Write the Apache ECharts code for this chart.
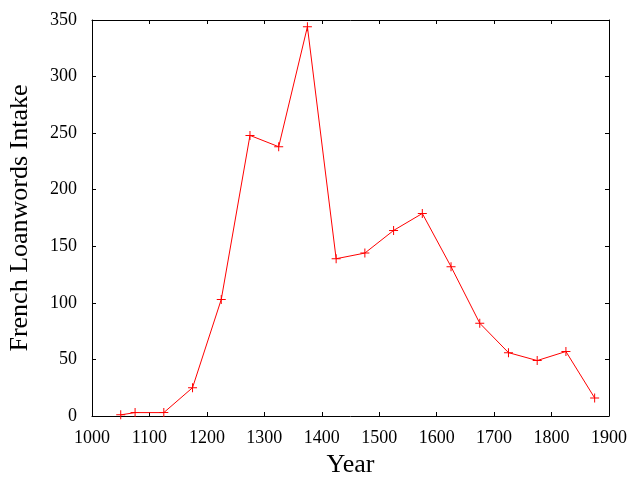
<!DOCTYPE html>
<html><head><meta charset="utf-8">
<script src="https://cdn.jsdelivr.net/npm/echarts@6/dist/echarts.min.js"></script>
<style>html,body{margin:0;padding:0;background:#fff}#c{width:640px;height:480px}</style>
</head><body><div id="c"></div>
<script>
var years = [1050, 1075, 1125, 1175, 1225, 1275, 1325, 1375, 1425, 1475, 1525, 1575, 1625, 1675, 1725, 1775, 1825, 1875];
var loanwords = [1, 3, 3, 25, 103, 248, 238, 344, 139, 144, 164, 179, 132, 82, 56, 49, 57, 16];
var xTitle = 'Year';
var yTitle = 'French Loanwords Intake';

var data = years.map(function (y, i) { return [y, loanwords[i]]; });
var font = 'Liberation Serif, Times New Roman, serif';
var chart = echarts.init(document.getElementById('c'));
var axisCommon = {
  axisLine: { show: true, onZero: false, lineStyle: { color: '#000', width: 1 } },
  axisTick: { show: true, inside: true, length: 4, lineStyle: { color: '#000' } },
  splitLine: { show: false }
};
var plain = function (v) { return String(v); };
chart.setOption({
  animation: false,
  backgroundColor: '#fff',
  grid: { left: 92, top: 20, right: 31, bottom: 64, containLabel: false, outerBoundsMode: 'none' },
  xAxis: [
    Object.assign({
      type: 'value', min: 1000, max: 1900, interval: 100, position: 'bottom',
      name: xTitle, nameLocation: 'middle', nameGap: 34,
      nameTextStyle: { fontFamily: font, fontSize: 26, color: '#000' },
      axisLabel: { fontFamily: font, fontSize: 18, color: '#000', margin: 13, formatter: plain }
    }, axisCommon),
    Object.assign({
      type: 'value', min: 1000, max: 1900, interval: 100, position: 'top',
      axisLabel: { show: false }
    }, axisCommon)
  ],
  yAxis: [
    Object.assign({
      type: 'value', min: 0, max: 350, interval: 50, position: 'left',
      name: yTitle, nameLocation: 'middle', nameGap: 59,
      nameTextStyle: { fontFamily: font, fontSize: 26, color: '#000' },
      axisLabel: { fontFamily: font, fontSize: 18, color: '#000', margin: 15, formatter: plain }
    }, axisCommon),
    Object.assign({
      type: 'value', min: 0, max: 350, interval: 50, position: 'right',
      axisLabel: { show: false }
    }, axisCommon)
  ],
  series: [{
    type: 'line',
    data: data,
    xAxisIndex: 0, yAxisIndex: 0,
    symbol: 'path://M4,0h1v4h4v1h-4v4h-1v-4h-4v-1h4z',
    symbolSize: 9,
    showSymbol: true,
    lineStyle: { color: '#ff0000', width: 1 },
    itemStyle: { color: '#ff0000', borderWidth: 0 }
  }]
});
</script></body></html>
